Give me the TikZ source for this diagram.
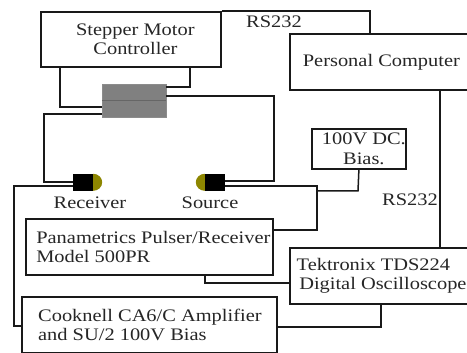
\documentclass[tikz,border=0pt]{standalone}
\usepackage{fontspec}
\setmainfont[FakeStretch=1.16]{Liberation Serif}
\begin{document}
\begin{tikzpicture}[x=1pt,y=-1pt,
  wire/.style={draw=black!90,line width=1.5pt,line join=miter},
  boxnode/.style={draw=black!90,line width=1.8pt,fill=white,inner sep=0pt,anchor=north west,text=black!85,font=\fontsize{17.6}{19.5}\selectfont},
  txt/.style={inner sep=0pt,font=\fontsize{17.6}{19.5}\selectfont,text=black!85},
  darkpart/.style={fill=black,draw=none,inner sep=0pt,minimum width=20pt,minimum height=17pt},
]
\useasboundingbox (0,0) rectangle (467,353);
% routing guides
\coordinate (rTop) at (370,11);
\coordinate (sL) at (60,0);
\coordinate (sR) at (190,87);
\coordinate (gL1) at (60,107);
\coordinate (gL2) at (44,114);
\coordinate (gR) at (274,96);
\coordinate (srcU) at (274,181);
\coordinate (srcL) at (317,186);
\coordinate (panaR) at (317,230);
\coordinate (biasK) at (358,191);
\coordinate (recU) at (44,182);
\coordinate (recL) at (14,186);
\coordinate (cookL) at (14,326);
\coordinate (panaB) at (205,283);
\coordinate (cookK) at (381,327);
\coordinate (pcB) at (440,0);
% boxes
\node[boxnode,minimum width=180pt,minimum height=55pt,align=center] (stepper) at (40,11) {\hspace*{9pt}Stepper Motor\\\hspace*{9pt}Controller};
\node[boxnode,minimum width=183pt,minimum height=56pt,align=center] (pc) at (289,33) {Personal Computer};
\node[boxnode,minimum width=94pt,minimum height=40pt,align=center] (bias) at (311,128) {\hspace*{10pt}100V DC.\\\hspace*{10pt}Bias.};
\node[boxnode,minimum width=247pt,minimum height=56pt,align=left] (pana) at (25,218) {\hspace*{8pt}Panametrics Pulser/Receiver\\\hspace*{8pt}Model 500PR};
\node[boxnode,minimum width=183pt,minimum height=56pt,align=center] (tek) at (289,247) {Tektronix TDS224\hspace*{16pt}\\\hspace*{3pt}Digital Oscilloscope};
\node[boxnode,minimum width=255pt,minimum height=56pt,align=left] (cook) at (21,296) {\hspace*{1pt}Cooknell CA6/C Amplifier\\\hspace*{1pt}and SU/2 100V Bias};
% motor stage
\node[fill=black!50,draw=black!45,line width=0.5pt,inner sep=0pt,minimum width=64pt,minimum height=33pt] (stage) at (134,100.5) {};
\draw[black!60,line width=1pt] (stage.west) -- (stage.east);
% transducers
\node[darkpart] (rec) at (83,182.5) {};
\fill[olive] (rec.north east) arc[start angle=90,end angle=-90,x radius=9pt,y radius=8.5pt] -- cycle;
\node[darkpart] (src) at (215,182.5) {};
\fill[olive] (src.north west) arc[start angle=90,end angle=270,x radius=9pt,y radius=8.5pt] -- cycle;
% connectors
\draw[wire] (stepper.north east) -- (rTop) -- (pc.north -| rTop);
\draw[wire] (stepper.south -| sL) -- (gL1) -- (stage.west |- gL1);
\draw[wire] (stepper.south -| sR) -- (sR) -- (stage.east |- sR);
\draw[wire] (stage.east |- gR) -- (gR) -- (srcU) -- (src.east |- srcU);
\draw[wire] (stage.west |- gL2) -- (gL2) -- (recU) -- (rec.west |- recU);
\draw[wire] (rec.west |- recL) -- (recL) -- (cookL) -- (cook.west |- cookL);
\draw[wire] (src.east |- srcL) -- (srcL) -- (panaR) -- (pana.east |- panaR);
\draw[wire] (bias.south) -- (biasK) -- (srcL |- biasK);
\draw[wire] (pc.south -| pcB) -- (tek.north -| pcB);
\draw[wire] (pana.south -| panaB) -- (panaB) -- (tek.west |- panaB);
\draw[wire] (cook.east |- cookK) -- (cookK) -- (tek.south -| cookK);
% labels
\node[txt] (l1) at (274,22) {RS232};
\node[txt] (l2) at (410,200) {RS232};
\node[txt] (l3) at (90,202.5) {Receiver};
\node[txt] (l4) at (210,202.5) {Source};
\end{tikzpicture}
\end{document}
